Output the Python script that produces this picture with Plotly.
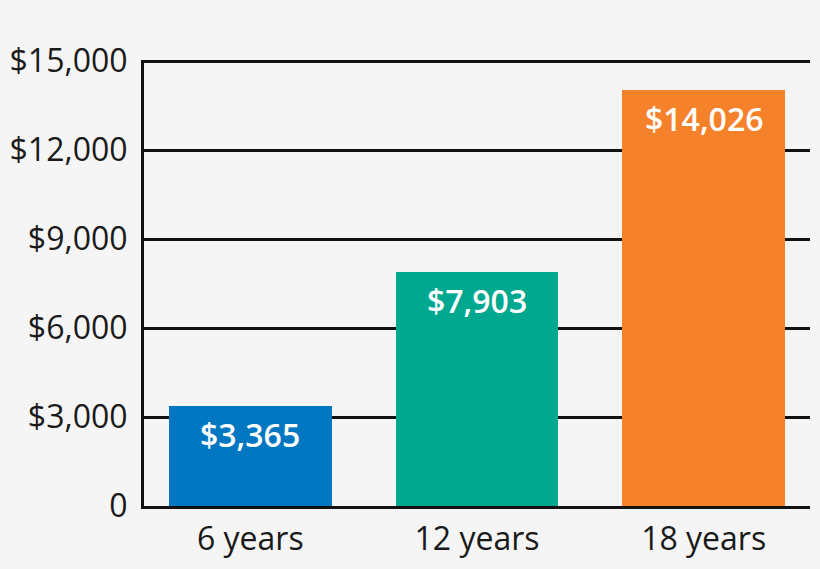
import plotly.graph_objects as go

categories = ["6 years", "12 years", "18 years"]
values = [3365, 7903, 14026]
value_labels = ["$3,365", "$7,903", "$14,026"]
bar_colors = ["#0077c0", "#00a88f", "#f5822a"]
tick_vals = [0, 3000, 6000, 9000, 12000, 15000]
tick_text = ["0", "$3,000", "$6,000", "$9,000", "$12,000", "$15,000"]

FONT = "Open Sans"

fig = go.Figure()
fig.add_trace(go.Bar(
    x=categories, y=values,
    marker=dict(color=bar_colors, line=dict(width=0)),
    width=0.718,
    hoverinfo="skip",
))

for c, v, t in zip(categories, values, value_labels):
    fig.add_annotation(
        x=c, y=v, text=t, showarrow=False,
        yanchor="top", yshift=-5,
        font=dict(family=FONT, size=32, color="white", weight=600),
    )

fig.update_layout(
    width=820, height=569,
    margin=dict(l=143, r=10, t=60, b=61),
    paper_bgcolor="#f5f5f5", plot_bgcolor="#f5f5f5",
    showlegend=False,
    bargap=0,
    font=dict(family=FONT, size=32, color="#1a1a1a"),
    xaxis=dict(
        range=[-0.469, 2.469],
        showline=True, linecolor="#111111", linewidth=3,
        showgrid=False, ticks="",
        ticklabelstandoff=3,
        tickfont=dict(family=FONT, size=32, color="#1a1a1a"),
    ),
    yaxis=dict(
        range=[0, 15040],
        tickvals=tick_vals, ticktext=tick_text,
        showline=True, linecolor="#111111", linewidth=3,
        showgrid=True, gridcolor="#111111", gridwidth=2.5,
        zeroline=False, ticks="",
        ticklabelstandoff=7,
        tickfont=dict(family=FONT, size=32, color="#1a1a1a"),
    ),
)

fig.write_html(
    "out.html",
    config={"displayModeBar": False},
    post_script="document.body.style.margin='0';document.body.style.background='#f5f5f5';",
)
